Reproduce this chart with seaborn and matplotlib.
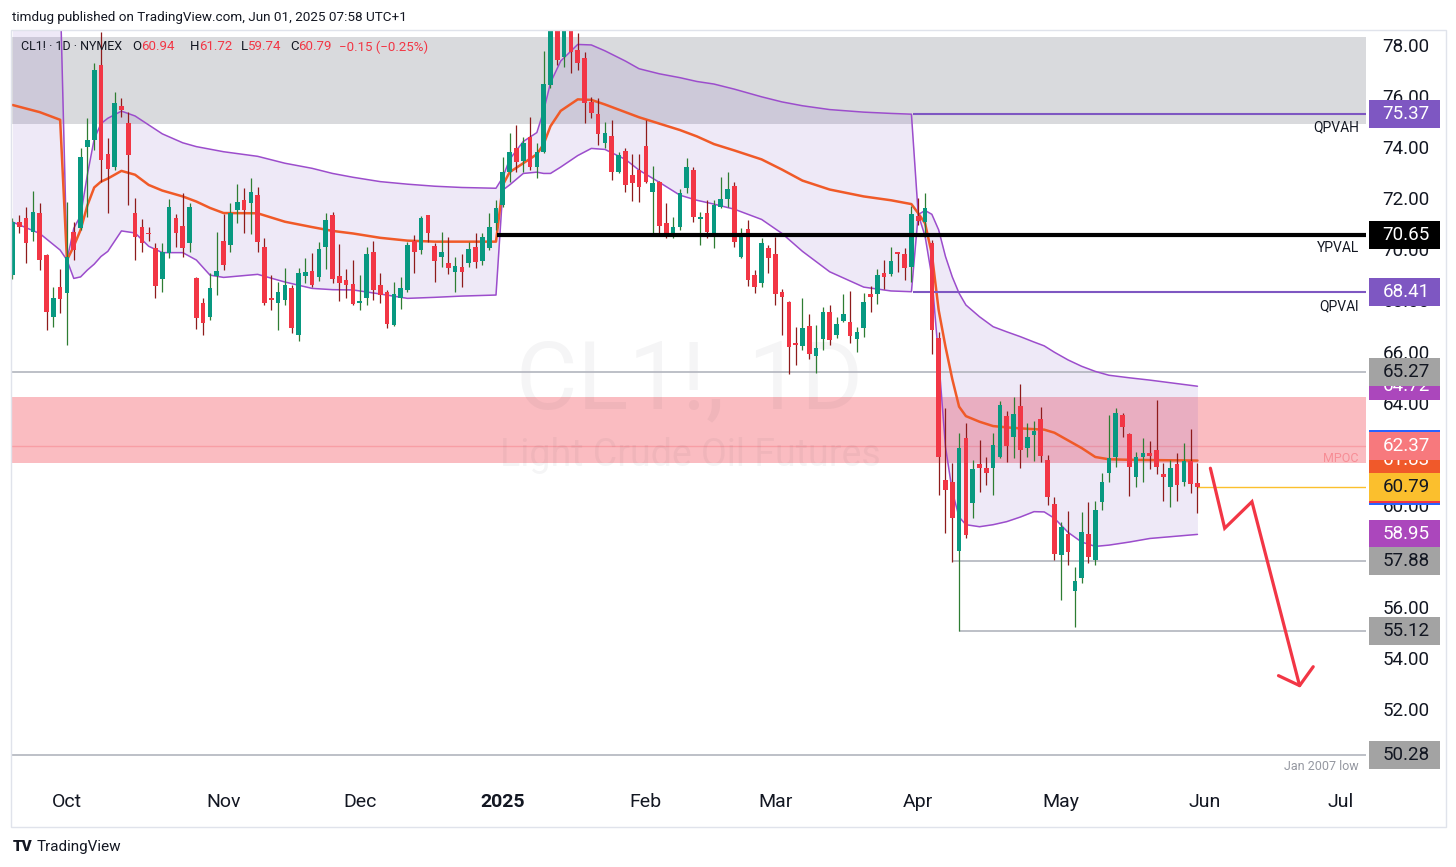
import numpy as np
import pandas as pd
import matplotlib
matplotlib.use("Agg")
import matplotlib.pyplot as plt
import matplotlib.transforms as mtransforms
from matplotlib.patches import Rectangle
import seaborn as sns

# ---------------- data ----------------
opens = [69.07, 71.16, 71.29, 70.75, 71.51, 69.86, 67.42, 68.62, 68.36, 70.77,
         70.90, 74.10, 74.36, 77.30, 73.81, 73.31, 75.69, 75.01, 71.49, 70.97,
         70.70, 70.12, 68.90, 69.95, 71.29, 70.99, 70.31, 68.94, 67.97, 67.44,
         69.05, 70.42, 70.25, 71.62, 72.01, 71.88, 72.21, 70.18, 68.12, 67.97,
         68.10, 68.58, 66.73, 69.04, 69.24, 68.98, 70.16, 71.42, 69.04, 68.88,
         68.72, 67.97, 68.16, 69.99, 68.68, 68.42, 67.12, 68.16, 68.49, 70.42,
         70.05, 71.42, 70.21, 69.79, 69.56, 69.20, 69.38, 69.53, 70.16, 69.64,
         70.12, 71.10, 71.81, 73.12, 74.03, 73.55, 74.46, 73.29, 73.90, 76.51,
         78.90, 77.62, 79.60, 77.88, 77.56, 75.86, 75.36, 74.26, 74.52, 73.12,
         73.94, 72.99, 73.19, 74.13, 72.34, 72.73, 71.12, 70.64, 70.97, 72.47,
         73.19, 71.27, 71.51, 70.64, 71.72, 72.04, 72.56, 69.77, 70.87, 69.07,
         68.77, 70.14, 69.90, 68.42, 68.03, 66.43, 66.30, 67.08, 65.90, 66.57,
         67.64, 66.73, 67.29, 67.22, 66.55, 66.99, 68.32, 68.33, 69.14, 69.12,
         69.95, 69.90, 69.40, 71.38, 71.16, 70.34, 66.60, 61.05, 60.98, 58.28,
         62.68, 60.16, 61.66, 61.51, 61.51, 61.94, 63.57, 62.72, 63.94, 62.29,
         62.81, 63.44, 61.83, 60.12, 58.11, 58.93, 56.72, 57.20, 58.93, 57.92,
         60.20, 61.34, 61.94, 63.59, 62.85, 61.18, 61.94, 62.12, 62.22, 61.27,
         60.76, 61.68, 60.98, 61.81, 60.94]
highs = [71.30, 71.42, 71.75, 72.36, 71.88, 69.90, 68.62, 69.30, 71.92, 71.16,
         74.03, 75.21, 77.36, 78.60, 74.42, 76.23, 75.99, 75.47, 72.08, 71.27,
         70.97, 70.31, 70.31, 72.04, 71.45, 72.27, 71.88, 69.01, 68.16, 69.14,
         70.77, 71.46, 71.88, 72.64, 72.47, 72.86, 72.53, 70.51, 69.07, 68.81,
         69.36, 68.68, 69.33, 69.73, 69.95, 70.38, 71.49, 71.55, 70.28, 69.30,
         69.66, 69.07, 70.18, 70.42, 69.14, 68.49, 68.81, 69.01, 70.38, 70.64,
         71.38, 71.42, 70.31, 70.77, 70.55, 69.79, 69.90, 70.38, 70.70, 70.70,
         71.51, 72.01, 73.71, 74.62, 74.95, 74.49, 75.25, 74.26, 77.86, 79.20,
         79.20, 80.40, 80.30, 78.54, 77.82, 76.06, 75.99, 75.08, 75.14, 73.90,
         74.03, 73.81, 73.81, 75.14, 73.34, 72.77, 71.88, 71.36, 72.43, 73.64,
         73.29, 71.55, 72.01, 72.01, 72.90, 73.12, 72.73, 70.90, 71.23, 69.27,
         70.51, 70.25, 70.55, 68.51, 68.07, 67.05, 68.16, 67.55, 67.12, 67.83,
         67.90, 67.44, 68.33, 68.46, 67.05, 68.36, 68.64, 69.30, 69.66, 70.18,
         69.99, 70.12, 71.77, 72.08, 72.27, 70.44, 66.86, 63.85, 61.70, 62.88,
         63.27, 61.83, 62.62, 61.96, 62.90, 64.16, 63.75, 64.31, 64.81, 63.27,
         63.37, 63.90, 62.03, 60.40, 59.42, 59.84, 57.66, 59.81, 60.20, 60.24,
         61.34, 63.59, 63.85, 63.66, 62.90, 62.16, 62.68, 62.57, 64.18, 61.70,
         61.83, 62.09, 62.51, 63.03, 61.72]
lows = [68.90, 70.71, 69.53, 70.42, 69.27, 66.92, 67.05, 67.57, 66.33, 69.66,
        70.84, 71.36, 73.96, 72.73, 71.51, 73.18, 75.27, 71.81, 69.66, 69.99,
        70.40, 68.16, 68.42, 69.73, 70.18, 69.77, 69.99, 66.98, 66.73, 67.31,
        68.29, 69.27, 69.99, 71.10, 70.71, 70.68, 69.99, 67.90, 67.70, 66.92,
        67.90, 66.79, 66.50, 68.77, 68.62, 68.85, 69.30, 68.75, 68.06, 68.16,
        67.90, 67.70, 67.90, 68.10, 67.97, 66.99, 67.08, 67.73, 68.42, 69.14,
        69.90, 70.38, 68.81, 69.40, 69.12, 68.42, 68.62, 69.38, 69.33, 69.47,
        70.05, 70.84, 71.75, 72.73, 73.12, 73.12, 73.19, 72.86, 73.84, 76.40,
        77.30, 77.23, 76.98, 77.10, 75.01, 75.21, 74.16, 74.03, 72.79, 73.06,
        72.34, 71.99, 71.95, 72.66, 70.70, 70.70, 70.51, 70.51, 70.84, 72.27,
        71.16, 70.25, 70.51, 70.12, 71.68, 71.75, 70.16, 69.73, 68.64, 68.36,
        68.62, 69.14, 67.90, 66.73, 65.20, 65.55, 66.14, 65.77, 65.25, 66.14,
        66.34, 66.60, 67.25, 66.43, 66.07, 66.63, 67.64, 67.94, 68.51, 69.04,
        69.21, 68.88, 68.81, 71.03, 70.58, 65.98, 60.46, 58.96, 57.85, 55.12,
        58.77, 59.55, 60.59, 60.85, 60.46, 61.90, 61.77, 61.90, 61.51, 61.96,
        61.81, 61.77, 60.07, 57.92, 56.36, 57.72, 55.28, 57.00, 57.79, 57.72,
        59.88, 60.98, 61.57, 62.72, 60.42, 60.76, 60.98, 61.47, 61.27, 60.24,
        60.00, 60.24, 60.81, 60.53, 59.74]
closes = [71.16, 70.97, 70.31, 71.53, 69.66, 67.64, 68.16, 68.12, 69.79, 70.05,
          73.71, 74.36, 77.10, 73.58, 73.21, 75.82, 75.53, 73.77, 70.55, 70.34,
          70.66, 68.64, 69.99, 71.72, 70.73, 70.12, 71.75, 67.38, 67.18, 68.55,
          69.25, 69.47, 71.49, 71.95, 71.62, 72.31, 70.38, 67.99, 68.10, 68.42,
          68.68, 66.99, 69.14, 69.20, 68.68, 70.08, 71.23, 68.91, 68.75, 68.68,
          67.94, 68.07, 69.90, 68.49, 68.29, 67.16, 68.33, 68.58, 70.25, 69.99,
          71.29, 70.70, 69.64, 69.99, 69.33, 69.43, 69.20, 70.08, 69.60, 70.55,
          70.94, 71.68, 73.12, 73.90, 73.51, 74.23, 73.32, 73.88, 76.55, 78.82,
          77.49, 80.04, 77.82, 77.36, 75.79, 75.40, 74.59, 74.62, 73.12, 73.77,
          72.60, 72.69, 72.51, 72.73, 72.66, 70.99, 70.64, 70.97, 72.30, 73.29,
          71.33, 71.33, 70.74, 71.81, 72.04, 72.43, 70.38, 70.64, 68.88, 68.59,
          70.31, 69.73, 68.33, 68.23, 66.27, 66.35, 66.99, 65.98, 66.20, 67.64,
          66.53, 67.16, 67.55, 66.70, 66.86, 68.03, 68.23, 69.07, 68.98, 69.62,
          69.90, 69.33, 71.46, 71.20, 71.71, 66.92, 61.96, 60.66, 59.55, 62.29,
          58.90, 61.47, 61.51, 61.31, 62.42, 63.99, 62.38, 63.63, 62.22, 62.75,
          62.98, 61.99, 60.40, 58.16, 59.21, 58.24, 57.10, 59.03, 58.02, 59.88,
          60.98, 61.90, 63.66, 63.11, 61.54, 61.94, 62.09, 61.99, 61.55, 61.15,
          61.51, 60.85, 61.81, 60.89, 60.79]

# anchored VWAP (quarterly) and its bands, read at knots (bar index)
band_x = [0, 4, 7,
          8, 9, 10, 11, 12, 13, 14, 16, 18, 20, 22, 25, 27, 29, 31, 36, 40, 44,
          47, 50, 54, 58, 62, 66, 71,
          72, 73, 75, 77, 78, 79, 80.5, 83, 85, 87, 90, 92, 95, 98, 100.5, 103,
          106, 110, 113, 116, 120, 125, 129, 132,
          133, 134, 135, 136, 137, 138, 139, 140, 142, 144, 146, 148, 150, 151.5,
          153, 155, 157, 159, 161, 164, 167, 174]
band_upper = [80.5, 80.4, 80.3,
              69.66, 70.9, 71.4, 73.0, 74.4, 75.0, 75.21, 75.49, 75.3, 74.95, 74.6,
              74.25, 74.1, 74.0, 73.9, 73.72, 73.45, 73.25, 73.05, 72.9, 72.73,
              72.63, 72.55, 72.5, 72.47,
              72.9, 73.6, 74.3, 74.65, 75.5, 76.6, 77.45, 78.1, 78.08, 77.85,
              77.45, 77.15, 76.95, 76.8, 76.65, 76.55, 76.35, 76.05, 75.85, 75.7,
              75.55, 75.45, 75.4, 75.37,
              71.44, 71.6, 71.45, 70.84, 69.8, 69.0, 68.36, 67.9, 67.44, 67.05,
              66.85, 66.66, 66.45, 66.3, 66.05, 65.75, 65.5, 65.3, 65.15, 65.05,
              64.96, 64.72]
band_vwap = [75.73, 75.45, 75.15,
             69.66, 70.2, 70.84, 71.8, 72.5, 72.73, 72.85, 73.15, 73.0, 72.6, 72.38,
             72.15, 71.95, 71.7, 71.5, 71.49, 71.16, 70.95, 70.8, 70.7, 70.53,
             70.42, 70.38, 70.38, 70.38,
             72.6, 73.1, 73.45, 73.8, 74.2, 74.9, 75.5, 75.95, 75.93, 75.75,
             75.45, 75.25, 75.0, 74.75, 74.5, 74.2, 73.95, 73.6, 73.2, 72.77,
             72.42, 72.15, 72.0, 71.85,
             71.49, 71.1, 69.9, 67.7, 66.27, 65.0, 63.92, 63.55, 63.33, 63.16,
             63.11, 63.07, 63.04, 63.02, 62.9, 62.6, 62.3, 61.95, 61.86, 61.84,
             61.83, 61.81]
band_lower = [71.15, 70.70, 70.05,
              69.66, 68.94, 69.0, 69.27, 69.5, 69.8, 70.0, 70.8, 70.72, 70.2, 69.95,
              69.95, 69.66, 69.07, 68.98, 69.1, 68.8, 68.55, 68.5, 68.49, 68.33,
              68.16, 68.2, 68.25, 68.29,
              72.4, 72.6, 73.05, 73.1, 73.05, 73.05, 73.3, 73.75, 74.03, 73.99,
              73.6, 73.18, 72.7, 72.2, 72.0, 71.85, 71.65, 71.25, 70.7, 70.0,
              69.2, 68.6, 68.45, 68.42,
              71.44, 70.6, 69.0, 65.8, 62.35, 60.6, 59.6, 59.3, 59.22, 59.3, 59.42,
              59.6, 59.81, 59.8, 59.55, 59.0, 58.62, 58.45, 58.5, 58.62, 58.76,
              58.92]

month_labels = ["Oct", "Nov", "Dec", "2025", "Feb", "Mar", "Apr", "May", "Jun", "Jul"]
month_bars = [8, 31, 51, 72, 93, 112, 133, 154, 175, 195]
# 58.00 and 62.00 are fully covered by level labels in the reference
price_ticks = [52, 54, 56, 60, 64, 66, 68, 70, 72, 74, 76, 78]

grey_zone = (74.97, 78.38)
pink_zone = (61.72, 64.30)
mpoc = 62.37
qpvah = 75.37
qpval = 68.41
ypval = 70.65
level_6527 = 65.27
level_5788 = 57.88
level_5512 = 55.12
low_2007 = 50.28
last_close = 60.79

arrow_x = [175.9, 178.0, 182.0, 189.0]
arrow_y = [61.51, 59.16, 60.20, 53.0]
arrow_head_x = [185.9, 189.0, 191.0]
arrow_head_y = [53.39, 53.0, 53.74]

# right-axis labels: value, face colour, text colour (None = sliver only)
axis_boxes = [
    (qpvah, "#7E57C2", "white"),
    (ypval, "#000000", "white"),
    (qpval, "#7E57C2", "white"),
    (64.72, "#AB47BC", "white"),
    (level_6527, "#A3A3A3", "#131722"),
    (62.45, "#2962FF", None),
    (61.83, "#F0592A", "white"),
    (mpoc, "#F7797D", "white"),
    (60.62, "#2962FF", None),
    (60.70, "#F23645", None),
    (last_close, "#FBBF2D", "#131722"),
    (58.95, "#AB47BC", "white"),
    (level_5788, "#A3A3A3", "#131722"),
    (level_5512, "#A3A3A3", "#131722"),
    (low_2007, "#A3A3A3", "#131722"),
]

# ---------------- figure ----------------
sns.set_theme(style="white")
plt.rcParams['font.family'] = ['Roboto', 'DejaVu Sans']

W, H = 1456, 867
fig = plt.figure(figsize=(W / 100, H / 100), dpi=100)
fig.patch.set_facecolor("white")
ax = fig.add_axes([12 / W, (H - 780) / H, (1366 - 12) / W, (780 - 30) / H])
ax.set_xlim(-0.07, 198.75)
ax.set_ylim(49.305, 78.6655)
ax.axis("off")

XR = 198.75
# zones
ax.axhspan(*grey_zone, color="#787B86", alpha=0.28, lw=0, zorder=0.5)
ax.axhspan(*pink_zone, color="#F23645", alpha=0.33, lw=0, zorder=0.6)
ax.hlines(mpoc, -1, XR, color="#F23645", alpha=0.22, lw=1, zorder=0.7)

# watermark
ax.text(690 / W, 1 - 382 / H, "CL1!, 1D", transform=fig.transFigure, ha="center",
        va="center", fontsize=68, color="#131722", alpha=0.04, zorder=0.8)
ax.text(690 / W, 1 - 455 / H, "Light Crude Oil Futures", transform=fig.transFigure,
        ha="center", va="center", fontsize=27, color="#131722", alpha=0.04, zorder=0.8)

# VWAP bands
bands = pd.DataFrame({"x": band_x, "upper": band_upper, "vwap": band_vwap,
                      "lower": band_lower})
ax.fill_between(bands["x"], bands["lower"], bands["upper"], color="#7E57C2",
                alpha=0.13, lw=0, zorder=1)
sns.lineplot(data=bands, x="x", y="upper", ax=ax, color="#9C4DCC", lw=1.1,
             estimator=None, sort=False, zorder=2)
sns.lineplot(data=bands, x="x", y="lower", ax=ax, color="#9C4DCC", lw=1.1,
             estimator=None, sort=False, zorder=2)
sns.lineplot(data=bands, x="x", y="vwap", ax=ax, color="#F05A28", lw=1.8,
             estimator=None, sort=False, zorder=2.5)

# horizontal levels
ax.hlines(level_6527, -1, XR, color="#B2B5BE", lw=1.2, zorder=1.5)
ax.hlines(low_2007, -1, XR, color="#B2B5BE", lw=1.2, zorder=1.5)
ax.hlines(level_5788, 138, XR, color="#B2B5BE", lw=1.2, zorder=1.5)
ax.hlines(level_5512, 139, XR, color="#B2B5BE", lw=1.2, zorder=1.5)
ax.hlines([qpvah, qpval], 132.2, XR, color="#7E57C2", lw=1.5, zorder=3)
ax.hlines(last_close, 174, XR, color="#FBC02D", lw=1, zorder=3)

# candles
o = np.array(opens); h = np.array(highs); l = np.array(lows); c = np.array(closes)
idx = np.arange(len(o))
up = c >= o
lo_body = np.minimum(o, c)
hb = np.maximum(np.abs(c - o), 0.07)
ax.vlines(idx[up], l[up], h[up], color="#2E7D32", lw=0.9, zorder=4)
ax.vlines(idx[~up], l[~up], h[~up], color="#8E1B1B", lw=0.9, zorder=4)
ax.bar(idx[up], hb[up], bottom=lo_body[up], width=0.68, color="#089981", lw=0, zorder=5)
ax.bar(idx[~up], hb[~up], bottom=lo_body[~up], width=0.68, color="#F23645", lw=0, zorder=5)

ax.hlines(ypval, 71.1, XR, color="black", lw=3, zorder=6)

# arrow
ax.plot(arrow_x, arrow_y, color="#F23645", lw=2.3, solid_joinstyle="miter", zorder=8)
ax.plot(arrow_head_x, arrow_head_y, color="#F23645", lw=2.3, zorder=8)

# level captions
fx = mtransforms.blended_transform_factory(fig.transFigure, ax.transData)
ax.text(1359 / W, qpvah - 0.5, "QPVAH", transform=fx, ha="right", va="center",
        fontsize=10, color="#131722", zorder=9)
ax.text(1359 / W, ypval - 0.5, "YPVAL", transform=fx, ha="right", va="center",
        fontsize=10, color="#131722", zorder=9)
ax.text(1359 / W, qpval - 0.55, "QPVAl", transform=fx, ha="right", va="center",
        fontsize=10, color="#131722", zorder=9)
ax.text(1359 / W, mpoc - 0.47, "MPOC", transform=fx, ha="right", va="center",
        fontsize=9, color="#F23645", alpha=0.35, zorder=9)
ax.text(1359 / W, low_2007 - 0.45, "Jan 2007 low", transform=fx, ha="right",
        va="center", fontsize=9, color="#9598A1", zorder=9)

# price scale
for v in price_ticks:
    ax.text(1406 / W, v, f"{v:.2f}", transform=fx, ha="center", va="center",
            fontsize=13.5, color="#131722", clip_on=False, zorder=10)
bh = 28 / 25.545
for k, (v, fc, tc) in enumerate(axis_boxes):
    z = 11 + k
    ax.add_patch(Rectangle((1369 / W, v - bh / 2), 71 / W, bh, transform=fx,
                           facecolor=fc, edgecolor="none", clip_on=False, zorder=z))
    if tc is not None:
        ax.text(1406 / W, v, f"{v:.2f}", transform=fx, ha="center", va="center",
                fontsize=13.5, color=tc, clip_on=False, zorder=z + 0.5)

# time scale
tx = mtransforms.blended_transform_factory(ax.transData, fig.transFigure)
for b, lab in zip(month_bars, month_labels):
    ax.text(b, 1 - 802 / H, lab, transform=tx, ha="center", va="center",
            fontsize=14, color="#131722", clip_on=False,
            fontweight="bold" if lab == "2025" else "normal")

# frame
fig.add_artist(Rectangle((11 / W, (H - 827) / H), (1446 - 11) / W, (827 - 30) / H,
                         transform=fig.transFigure, fill=False, edgecolor="#E0E3EB",
                         lw=1))

# header & legend
fig.text(12 / W, 1 - 17 / H, "timdug published on TradingView.com, Jun 01, 2025 07:58 UTC+1",
         fontsize=9.7, color="#131722", va="center")
legend_parts = [(21, "CL1! · 1D · NYMEX", "#131722", 9.0), (132, "O", "#131722", 9.5),
                (141, "60.94", "#F23645", 9.5), (190, "H", "#131722", 9.5),
                (199, "61.72", "#F23645", 9.5), (241, "L", "#131722", 9.5),
                (248, "59.74", "#F23645", 9.5), (290, "C", "#131722", 9.5),
                (298, "60.79", "#F23645", 9.5), (339, "−0.15 (−0.25%)", "#F23645", 9.5)]
for px, s, col, fs in legend_parts:
    fig.text(px / W, 1 - 47 / H, s, fontsize=fs, color=col, va="center")

# footer logo
fig.text(13 / W, 1 - 847 / H, "TV", fontsize=11, fontweight="heavy",
         color="#131722", va="center")
fig.text(37 / W, 1 - 847 / H, "TradingView", fontsize=11, color="#131722",
         va="center")

fig.savefig("out.png", dpi=100)
